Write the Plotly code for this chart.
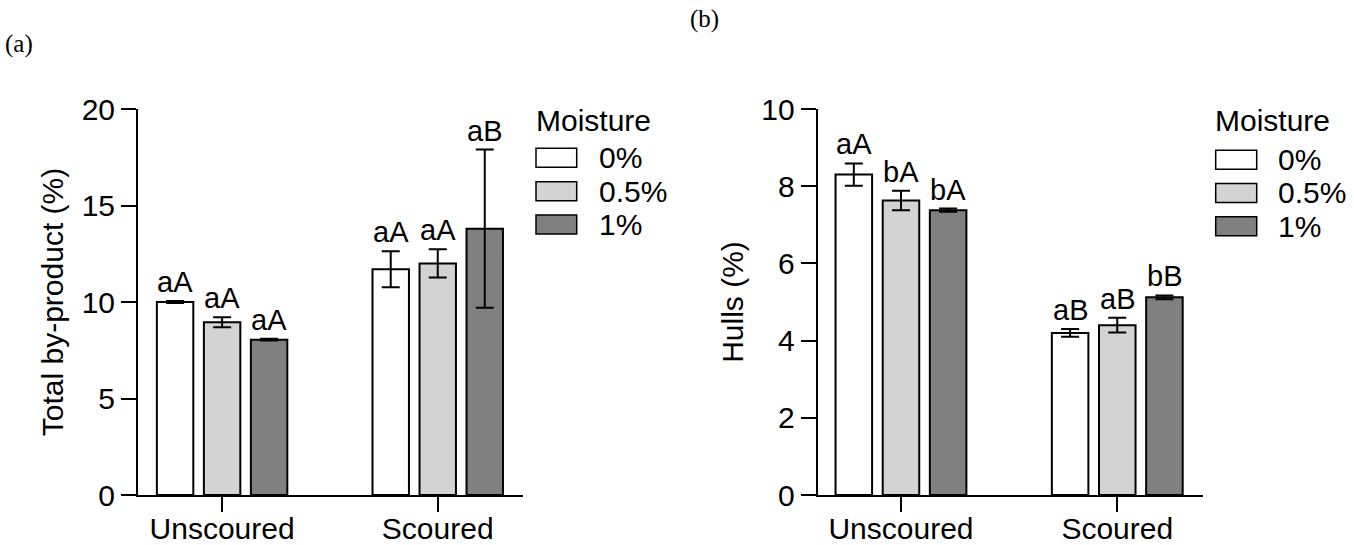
import plotly.graph_objects as go

# ---- data -------------------------------------------------------------
groups = ["Unscoured", "Scoured"]
moisture_levels = ["0%", "0.5%", "1%"]
fill_colors = ["#ffffff", "#d3d3d3", "#808080"]

# (a) Total by-product (%)
total_0 = [10.0, 11.7]
total_0_err = [0.05, 0.93]
total_05 = [8.95, 12.0]
total_05_err = [0.26, 0.73]
total_1 = [8.05, 13.8]
total_1_err = [0.04, 4.1]
total_letters_0 = ["aA", "aA"]
total_letters_05 = ["aA", "aA"]
total_letters_1 = ["aA", "aB"]

# (b) Hulls (%)
hulls_0 = [8.3, 4.2]
hulls_0_err = [0.29, 0.10]
hulls_05 = [7.63, 4.4]
hulls_05_err = [0.25, 0.19]
hulls_1 = [7.38, 5.12]
hulls_1_err = [0.04, 0.05]
hulls_letters_0 = ["aA", "aB"]
hulls_letters_05 = ["bA", "aB"]
hulls_letters_1 = ["bA", "bB"]

total_ticks = [0, 5, 10, 15, 20]
hulls_ticks = [0, 2, 4, 6, 8, 10]

# ---- geometry ---------------------------------------------------------
W, H = 1354, 545
BARGAP = 0.346
BARGROUPGAP = 0.225
SLOT = (1 - BARGAP) / len(moisture_levels)

FONT = "Liberation Sans, Arial, sans-serif"
SERIF = "Liberation Serif, Times New Roman, serif"
TICK_SIZE = 30
TITLE_SIZE = 30
LABEL_SIZE = 29
LEGEND_SIZE = 30


def px_x(p):
    return p / W


def px_y(p):
    return 1 - p / H


fig = go.Figure()

panels = [
    dict(xa="x", ya="y",
         means=[total_0, total_05, total_1],
         errs=[total_0_err, total_05_err, total_1_err],
         letters=[total_letters_0, total_letters_05, total_letters_1]),
    dict(xa="x2", ya="y2",
         means=[hulls_0, hulls_05, hulls_1],
         errs=[hulls_0_err, hulls_05_err, hulls_1_err],
         letters=[hulls_letters_0, hulls_letters_05, hulls_letters_1]),
]

annotations = []
for panel in panels:
    for si, level in enumerate(moisture_levels):
        fig.add_trace(go.Bar(
            x=groups, y=panel["means"][si], name=level,
            xaxis=panel["xa"], yaxis=panel["ya"],
            marker=dict(color=fill_colors[si], line=dict(color="black", width=2)),
            error_y=dict(type="data", array=panel["errs"][si],
                         color="black", thickness=2, width=9),
            showlegend=False, offsetgroup=str(si),
        ))
        # significance letters above each error bar
        for gi in range(len(groups)):
            annotations.append(dict(
                xref=panel["xa"], yref=panel["ya"],
                x=gi + (si - 1) * SLOT,
                y=panel["means"][si][gi] + panel["errs"][si][gi],
                text=panel["letters"][si][gi], showarrow=False,
                yanchor="bottom", xanchor="center", yshift=1,
                font=dict(family=FONT, size=LABEL_SIZE, color="black"),
            ))

axis_common = dict(showline=True, linewidth=2, linecolor="black",
                   ticks="outside", ticklen=15, tickwidth=2, tickcolor="black",
                   showgrid=False, zeroline=False, automargin=False,
                   tickfont=dict(family=FONT, size=TICK_SIZE, color="black"))

fig.update_layout(
    template="none",
    width=W, height=H,
    margin=dict(l=0, r=0, t=0, b=0),
    paper_bgcolor="white", plot_bgcolor="white",
    barmode="group", bargap=BARGAP, bargroupgap=BARGROUPGAP,
    xaxis=dict(domain=[px_x(138), px_x(522.7)], anchor="y",
               type="category", range=[-0.39, 1.394],
               ticklabelstandoff=-9, **axis_common),
    yaxis=dict(domain=[px_y(495), px_y(109)], anchor="x",
               range=[0, 20], tickvals=total_ticks,
               title=dict(text="Total by-product (%)", standoff=9,
                          font=dict(family=FONT, size=TITLE_SIZE, color="black")),
               **axis_common),
    xaxis2=dict(domain=[px_x(817.7), px_x(1202.7)], anchor="y2",
                type="category", range=[-0.385, 1.395],
                ticklabelstandoff=-9, **axis_common),
    yaxis2=dict(domain=[px_y(495), px_y(109)], anchor="x2",
                range=[0, 10], tickvals=hulls_ticks,
                title=dict(text="Hulls (%)", standoff=9,
                           font=dict(family=FONT, size=TITLE_SIZE, color="black")),
                **axis_common),
)

# ---- manual legends ("Moisture") --------------------------------------
shapes = []
legend_specs = [
    dict(title_x=534, swatch_x0=536, swatch_x1=576.7, label_x=597,
         title_y=120, rows_y=[157.8, 191.2, 224.5]),
    dict(title_x=1213, swatch_x0=1215.7, swatch_x1=1256.7, label_x=1276,
         title_y=121, rows_y=[159.7, 193.0, 226.3]),
]
for spec in legend_specs:
    annotations.append(dict(
        xref="paper", yref="paper", x=px_x(spec["title_x"]), y=px_y(spec["title_y"]),
        xanchor="left", yanchor="middle", text="Moisture", showarrow=False,
        font=dict(family=FONT, size=LEGEND_SIZE, color="black"),
    ))
    for si, level in enumerate(moisture_levels):
        yc = spec["rows_y"][si]
        shapes.append(dict(
            type="rect", xref="paper", yref="paper",
            x0=px_x(spec["swatch_x0"]), x1=px_x(spec["swatch_x1"]),
            y0=px_y(yc + 9.5), y1=px_y(yc - 9.5),
            fillcolor=fill_colors[si], line=dict(color="black", width=1.5),
        ))
        annotations.append(dict(
            xref="paper", yref="paper", x=px_x(spec["label_x"]), y=px_y(yc),
            xanchor="left", yanchor="middle", text=level, showarrow=False,
            font=dict(family=FONT, size=LEGEND_SIZE, color="black"),
        ))

# panel letters
annotations.append(dict(xref="paper", yref="paper", x=px_x(3), y=px_y(44),
                        xanchor="left", yanchor="middle", text="(a)", showarrow=False,
                        font=dict(family=SERIF, size=25, color="black")))
annotations.append(dict(xref="paper", yref="paper", x=px_x(688), y=px_y(19),
                        xanchor="left", yanchor="middle", text="(b)", showarrow=False,
                        font=dict(family=SERIF, size=25, color="black")))

fig.update_layout(annotations=annotations, shapes=shapes)

fig.write_html("out.html")
